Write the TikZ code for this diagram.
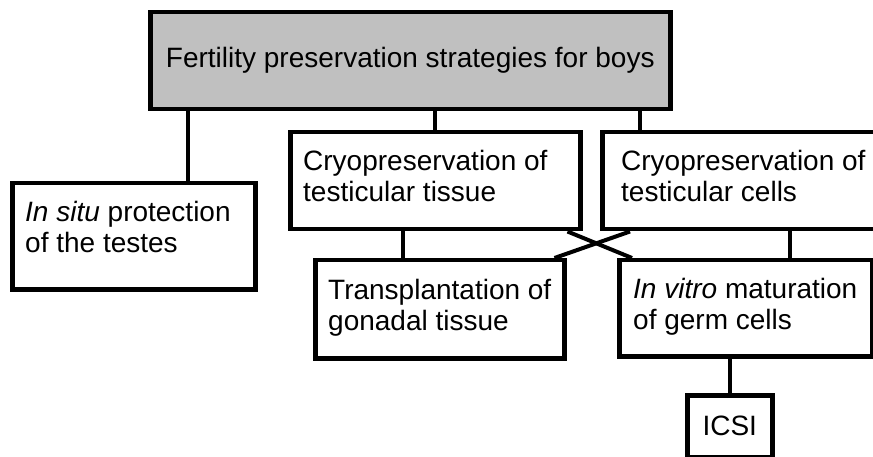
\documentclass[tikz,border=0pt]{standalone}
\usepackage{fontspec}
\setmainfont{Liberation Sans}
\definecolor{boxgray}{RGB}{192,192,192}
\pgfdeclarelayer{bg}
\pgfsetlayers{bg,main}
\begin{document}
\begin{tikzpicture}[x=1pt,y=-1pt,
  box/.style={draw=black, line width=4.5pt, fill=white, rectangle, inner sep=0pt, anchor=north west},
  txt/.style={font=\fontsize{28}{31}\selectfont, align=left, inner sep=0pt, anchor=base west},
  conn/.style={draw=black, line width=4pt}]
\useasboundingbox (0,0) rectangle (873,457);
% boxes
\node[box, fill=boxgray, minimum width=520pt, minimum height=97pt] (top) at (148,10) {};
\node[box, minimum width=243pt, minimum height=106pt] (insitu) at (10,181) {};
\node[box, minimum width=290pt, minimum height=97pt] (tissue) at (288,130) {};
\node[box, minimum width=285pt, minimum height=97pt] (cells) at (600,130) {};
\node[box, minimum width=249pt, minimum height=98pt] (trans) at (313,258) {};
\node[box, minimum width=253pt, minimum height=96pt] (invitro) at (617,258) {};
\node[box, minimum width=85pt, minimum height=62pt] (icsi) at (685,393) {};
% texts
\node[font=\fontsize{28}{31}\selectfont, inner sep=0pt] (top-t) at (top.center) {Fertility preservation strategies for boys};
\node[txt] (insitu-t) at (25,252) {\textit{In situ} protection\\of the testes};
\node[txt] (tissue-t) at (303,202) {Cryopreservation of\\testicular tissue};
\node[txt] (cells-t) at (621,202) {Cryopreservation of\\testicular cells};
\node[txt] (trans-t) at (328,330) {Transplantation of\\gonadal tissue};
\node[txt] (invitro-t) at (633,329) {\textit{In vitro} maturation\\of germ cells};
\node[font=\fontsize{28}{31}\selectfont, inner sep=0pt] (icsi-t) at (icsi.center) {ICSI};
% connectors
\begin{pgfonlayer}{bg}
\path (top.south west) ++(40,0) coordinate (c1);
\draw[conn] (c1) -- (c1 |- insitu.north);
\draw[conn] (tissue.north |- top.south) -- (tissue.north);
\path (cells.north west) ++(40,0) coordinate (c3);
\draw[conn] (c3 |- top.south) -- (c3);
\path (tissue.south west) ++(115,0) coordinate (c4);
\draw[conn] (c4) -- (c4 |- trans.north);
\path (cells.south west) ++(190,0) coordinate (c5);
\draw[conn] (c5) -- (c5 |- invitro.north);
\draw[conn] (icsi.north |- invitro.south) -- (icsi.north);
\path (tissue.south east) ++(-15,0) coordinate (xa1);
\path (invitro.north west) ++(15,0) coordinate (xa2);
\draw[conn] (xa1) -- (xa2);
\path (cells.south west) ++(30,0) coordinate (xb1);
\path (trans.north east) ++(-12,0) coordinate (xb2);
\draw[conn] (xb1) -- (xb2);
\end{pgfonlayer}
\end{tikzpicture}
\end{document}
